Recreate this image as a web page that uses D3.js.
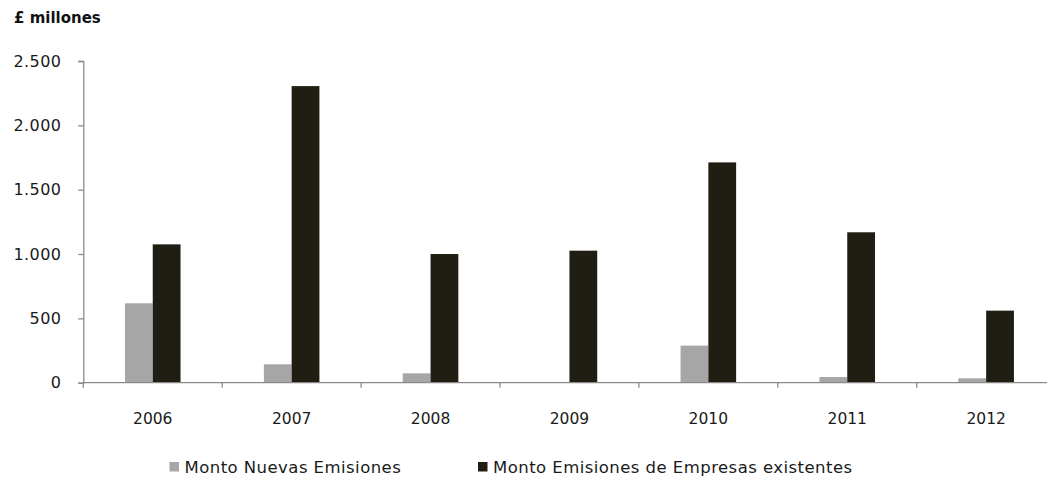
<!DOCTYPE html>
<html>
<head>
<meta charset="utf-8">
<script src="https://cdn.jsdelivr.net/npm/d3@7"></script>
<style>
  html, body { margin: 0; padding: 0; background: #fff; }
  svg { display: block; font-family: "DejaVu Sans", sans-serif; }
</style>
</head>
<body>
<svg id="chart" width="1047" height="491"></svg>
<script>
// Annual issuance amounts, in millions of pounds
const years = ["2006", "2007", "2008", "2009", "2010", "2011", "2012"];
const nuevasEmisiones = [617, 143, 73, 0, 288, 44, 34];
const empresasExistentes = [1075, 2305, 1000, 1026, 1712, 1169, 560];
const seriesNames = ["Monto Nuevas Emisiones", "Monto Emisiones de Empresas existentes"];
const seriesColors = ["#a6a6a6", "#201e12"];
const yTicks = [0, 500, 1000, 1500, 2000, 2500];

const svg = d3.select("#chart");
const margin = { left: 83.3, top: 61, bottom: 382.7 };
const band = 138.9;

const x = d3.scaleBand()
  .domain(years)
  .range([margin.left, margin.left + band * years.length])
  .paddingInner(0).paddingOuter(0);

const y = d3.scaleLinear().domain([0, 2500]).range([margin.bottom, margin.top]);

const fmt = v => d3.format(",")(v).replace(/,/g, ".");

const axisColor = "#8a8a8a";
const textColor = "#1a1a1a";

// Bars: two series side by side in the middle of each year's band
const barW = x.bandwidth() * 0.2;
const rows = years.map((yr, i) => ({ year: yr, values: [nuevasEmisiones[i], empresasExistentes[i]] }));

const groups = svg.append("g").selectAll("g")
  .data(rows).join("g")
  .attr("transform", d => `translate(${x(d.year) + x.bandwidth() / 2 - barW},0)`);

groups.selectAll("rect")
  .data(d => d.values.map((v, k) => ({ v, k })))
  .join("rect")
  .attr("x", d => d.k * barW)
  .attr("y", d => y(d.v))
  .attr("width", barW)
  .attr("height", d => y(0) - y(d.v))
  .attr("fill", d => seriesColors[d.k]);

// Y axis
const yAxis = svg.append("g")
  .attr("transform", `translate(${margin.left},0)`)
  .call(d3.axisLeft(y).tickValues(yTicks).tickFormat(fmt).tickSize(5).tickPadding(17));
yAxis.select(".domain").attr("stroke", axisColor).attr("stroke-width", 1.3);
yAxis.selectAll(".tick line").attr("stroke", axisColor).attr("stroke-width", 1.3);
yAxis.selectAll(".tick text")
  .attr("fill", textColor).attr("font-size", 16)
  .attr("letter-spacing", 0.4)
  .attr("font-family", "DejaVu Sans");

// X axis with ticks at band boundaries
const xAxis = svg.append("g").attr("transform", `translate(0,${margin.bottom})`);
xAxis.append("line")
  .attr("x1", x.range()[0]).attr("x2", x.range()[1])
  .attr("stroke", axisColor).attr("stroke-width", 1.3);
xAxis.selectAll("line.tk")
  .data(years).join("line").attr("class", "tk")
  .attr("x1", d => x(d)).attr("x2", d => x(d))
  .attr("y1", 0).attr("y2", 5)
  .attr("stroke", axisColor).attr("stroke-width", 1.3);
xAxis.selectAll("text")
  .data(years).join("text")
  .attr("x", d => x(d) + x.bandwidth() / 2)
  .attr("y", 41)
  .attr("text-anchor", "middle")
  .attr("font-size", 15.5)
  .attr("fill", textColor)
  .text(d => d);

// Unit label
svg.append("text")
  .attr("x", 14).attr("y", 23)
  .attr("font-size", 15).attr("font-weight", "bold")
  .attr("fill", "#111")
  .text("£ millones");

// Legend
const legendX = [169.5, 478];
const legend = svg.append("g").selectAll("g")
  .data(seriesNames).join("g")
  .attr("transform", (d, i) => `translate(${legendX[i]},462)`);
legend.append("rect")
  .attr("width", 9.5).attr("height", 9.5)
  .attr("fill", (d, i) => seriesColors[i]);
legend.append("text")
  .attr("x", 15).attr("y", 11)
  .attr("font-size", 16.5).attr("letter-spacing", 0.45)
  .attr("fill", textColor)
  .text(d => d);
</script>
</body>
</html>
